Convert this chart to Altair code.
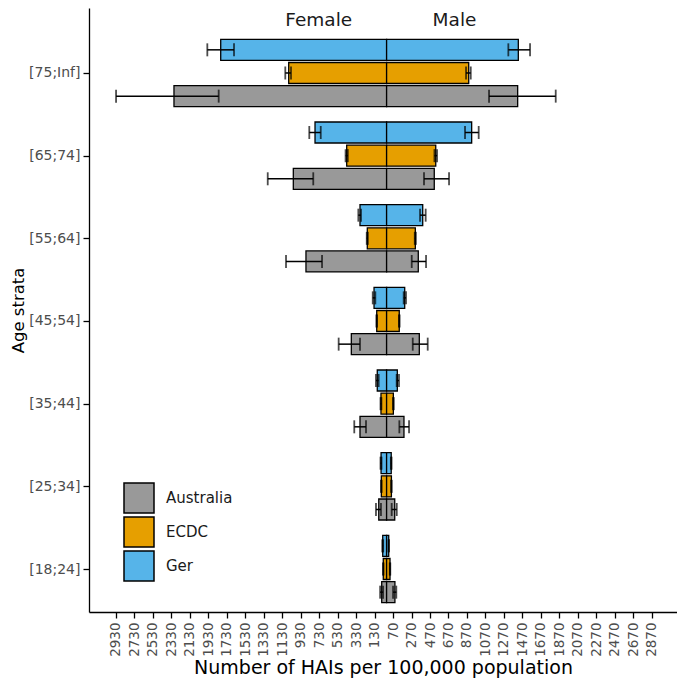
import altair as alt
import pandas as pd

ages = ["[18;24]", "[25;34]", "[35;44]", "[45;54]", "[55;64]", "[65;74]", "[75;Inf]"]
sources = ["Australia", "ECDC", "Ger"]
colors = ["#999999", "#E69F00", "#56B4E9"]

# Female values (absolute), with error-bar bounds
aus_f = [53, 85, 288, 382, 873, 1010, 2302]
aus_f_lo = [38, 61, 223, 288, 699, 794, 1818]
aus_f_hi = [70, 115, 350, 519, 1089, 1287, 2929]
aus_m = [90, 88, 188, 354, 343, 516, 1419]
aus_m_lo = [70, 55, 138, 283, 272, 405, 1109]
aus_m_hi = [105, 110, 243, 445, 427, 676, 1831]

ecdc_f = [36, 57, 61, 107, 209, 432, 1060]
ecdc_f_lo = [33, 53, 56, 103, 203, 420, 1035]
ecdc_f_hi = [39, 61, 66, 111, 215, 444, 1097]
ecdc_m = [37, 52, 73, 137, 311, 532, 889]
ecdc_m_lo = [34, 48, 68, 133, 305, 518, 860]
ecdc_m_hi = [40, 56, 78, 141, 317, 546, 911]

ger_f = [42, 60, 101, 136, 288, 775, 1796]
ger_f_lo = [37, 55, 86, 122, 277, 713, 1652]
ger_f_hi = [47, 66, 115, 150, 306, 837, 1941]
ger_m = [23, 50, 116, 196, 391, 921, 1426]
ger_m_lo = [20, 46, 109, 185, 362, 849, 1318]
ger_m_hi = [26, 54, 134, 210, 423, 997, 1553]

sex_labels = ["Female", "Male"]
sex_label_x = [-735, 735]

x_ticks = list(range(-2930, 2871, 200))

series = {
    "Australia": (aus_f, aus_f_lo, aus_f_hi, aus_m, aus_m_lo, aus_m_hi),
    "ECDC": (ecdc_f, ecdc_f_lo, ecdc_f_hi, ecdc_m, ecdc_m_lo, ecdc_m_hi),
    "Ger": (ger_f, ger_f_lo, ger_f_hi, ger_m, ger_m_lo, ger_m_hi),
}

rows = []
for src, (f, flo, fhi, m, mlo, mhi) in series.items():
    for i, a in enumerate(ages):
        rows.append(dict(age=a, idx=i, source=src, sex="Female",
                         value=-f[i], lo=-fhi[i], hi=-flo[i]))
        rows.append(dict(age=a, idx=i, source=src, sex="Male",
                         value=m[i], lo=mlo[i], hi=mhi[i]))
df = pd.DataFrame(rows)

xtitle = "Number of HAIs per 100,000 population"
ytitle = "Age strata"
xscale = alt.Scale(domain=[-3222, 3144], nice=False, zero=False)
yscale = alt.Scale(domain=[-0.52, 6.786], nice=False, zero=False)

label_arr = "[" + ",".join("'" + a + "'" for a in ages) + "]"

xaxis = alt.Axis(values=x_ticks, labelExpr="'' + abs(datum.value)",
                 labelAngle=-90, labelAlign="right", labelBaseline="middle",
                 labelFont="DejaVu Sans", labelFontSize=13.5, labelColor="#4d4d4d",
                 labelPadding=4, tickSize=6, labelOverlap=False,
                 titleFont="DejaVu Sans", titleFontSize=19, titleFontWeight="normal",
                 titleColor="black", titlePadding=2)
yaxis = alt.Axis(values=list(range(len(ages))),
                 labelExpr=label_arr + "[datum.value]",
                 labelFont="DejaVu Sans", labelFontSize=14, labelColor="#4d4d4d",
                 labelPadding=3, tickSize=6, labelOverlap=False,
                 titleFont="DejaVu Sans", titleFontSize=16.5, titleFontWeight="normal",
                 titleColor="black", titlePadding=2)

base = alt.Chart(df).transform_calculate(
    ctr="datum.idx + (datum.source == 'Ger' ? 0.28 : (datum.source == 'ECDC' ? 0 : -0.28))"
).transform_calculate(
    yt="datum.ctr + 0.127", yb="datum.ctr - 0.127", zero="0"
)

bars = base.mark_bar(stroke="black", strokeWidth=1.3).encode(
    x=alt.X("value:Q", scale=xscale, title=xtitle, axis=xaxis),
    x2="zero:Q",
    y=alt.Y("yt:Q", scale=yscale, title=ytitle, axis=yaxis),
    y2="yb:Q",
    fill=alt.Fill("source:N", scale=alt.Scale(domain=sources, range=colors),
                  legend=alt.Legend(title=None, orient="none", legendX=34, legendY=474,
                                    symbolType="square", symbolSize=900,
                                    symbolStrokeColor="black", symbolStrokeWidth=1.5,
                                    symbolOpacity=1,
                                    labelFont="DejaVu Sans", labelFontSize=15,
                                    labelColor="#1a1a1a", labelOffset=11,
                                    rowPadding=-2, padding=0)),
)

errs = base.mark_rule(color="black", strokeWidth=1.5).encode(
    x=alt.X("lo:Q", scale=xscale, title=xtitle, axis=xaxis),
    x2="hi:Q",
    y=alt.Y("ctr:Q", scale=yscale, title=ytitle, axis=yaxis),
)

caps = base.transform_fold(["lo", "hi"], as_=["end", "xv"]).mark_tick(
    orient="vertical", size=13, thickness=1.8, color="black"
).encode(
    x=alt.X("xv:Q", scale=xscale, title=xtitle, axis=xaxis),
    y=alt.Y("ctr:Q", scale=yscale, title=ytitle, axis=yaxis),
)

text = alt.Chart(pd.DataFrame({"label": sex_labels, "x": sex_label_x})).mark_text(
    font="DejaVu Sans", fontSize=18.5, baseline="alphabetic", color="#1a1a1a"
).encode(
    x=alt.X("x:Q", scale=xscale, title=xtitle, axis=xaxis),
    y=alt.value(18),
    text="label:N",
)

chart = alt.layer(bars, errs, caps, text).properties(
    width=588, height=604,
    autosize=alt.AutoSizeParams(type="none"),
    padding={"left": 81, "top": 0, "right": 0, "bottom": 68},
).configure_view(stroke=None).configure_axis(
    grid=False, domainColor="black", domainWidth=1.3, tickColor="black", tickWidth=1.3,
    labelOverlap=False
)

chart.save("out.html", embed_options={"renderer": "svg", "actions": False})
